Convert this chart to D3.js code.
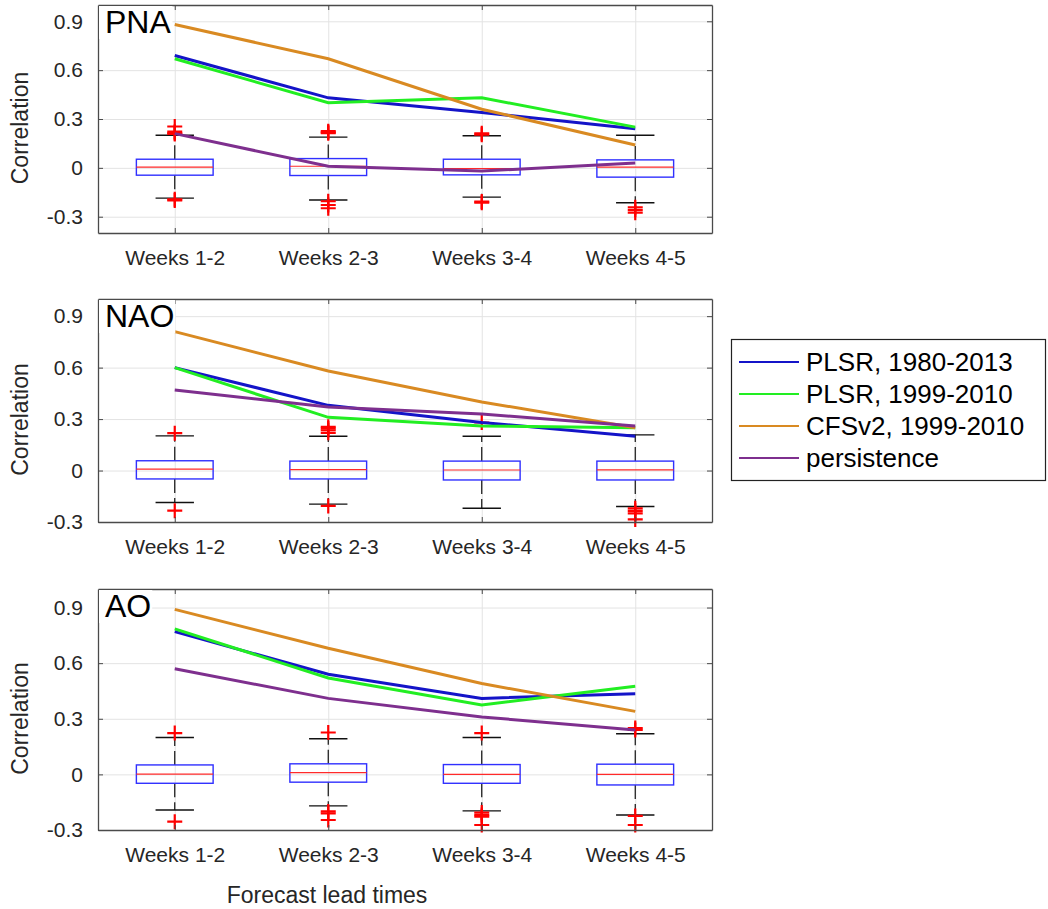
<!DOCTYPE html>
<html>
<head>
<meta charset="utf-8">
<script src="https://cdn.jsdelivr.net/npm/d3@7"></script>
<style>
  body { margin: 0; background: #fff; }
  svg { font-family: 'Liberation Sans', Arial, sans-serif; }
  .tick text { fill: #262626; font-size: 21px; }
  .frame .domain { stroke: #4a4a4a; stroke-width: 1.3; }
  .frame .tick line { stroke: #4a4a4a; }
  .grid .domain { display: none; }
  .grid .tick line { stroke: #e3e3e3; }
</style>
</head>
<body>
<svg id="chart" width="1048" height="909"></svg>
<script>
var categories = ['Weeks 1-2', 'Weeks 2-3', 'Weeks 3-4', 'Weeks 4-5'];
var panelNames = ['PNA', 'NAO', 'AO'];
var yTicks = [-0.3, 0, 0.3, 0.6, 0.9];

var seriesNames = ['PLSR, 1980-2013', 'PLSR, 1999-2010', 'CFSv2, 1999-2010', 'persistence'];
var seriesColors = ['#1414c8', '#22ee22', '#d98a22', '#7e2f8e'];

// correlation of each method, per panel
var pnaPlsr8013 = [0.69, 0.43, 0.34, 0.24];
var pnaPlsr9910 = [0.67, 0.40, 0.43, 0.25];
var pnaCfs = [0.88, 0.67, 0.36, 0.14];
var pnaPersist = [0.21, 0.01, -0.02, 0.03];

var naoPlsr8013 = [0.60, 0.38, 0.28, 0.20];
var naoPlsr9910 = [0.60, 0.31, 0.26, 0.25];
var naoCfs = [0.81, 0.58, 0.40, 0.25];
var naoPersist = [0.47, 0.37, 0.33, 0.26];

var aoPlsr8013 = [0.77, 0.54, 0.41, 0.435];
var aoPlsr9910 = [0.785, 0.52, 0.375, 0.475];
var aoCfs = [0.89, 0.68, 0.49, 0.34];
var aoPersist = [0.57, 0.41, 0.31, 0.24];

// box plots of the null distribution: [lower whisker, q1, median, q3, upper whisker]
var pnaBoxes = [[-0.186, -0.045, 0.004, 0.053, 0.2], [-0.197, -0.047, 0.01, 0.057, 0.189],
                [-0.18, -0.043, -0.004, 0.053, 0.197], [-0.214, -0.057, 0.004, 0.049, 0.2]];
var pnaOutliers = [[0.254, 0.222, 0.214, 0.208, -0.193, -0.2], [0.225, 0.218, 0.213, -0.205, -0.228, -0.248],
                   [0.212, 0.204, -0.207, -0.214], [-0.242, -0.258, -0.275]];

var naoBoxes = [[-0.186, -0.049, 0.008, 0.057, 0.202], [-0.196, -0.049, 0.005, 0.055, 0.2],
                [-0.22, -0.055, 0.003, 0.055, 0.2], [-0.21, -0.055, 0.004, 0.055, 0.208]];
var naoOutliers = [[0.218, -0.234], [0.22, 0.235, 0.245, 0.255, -0.206],
                   [0.28], [-0.22, -0.235, -0.25, -0.285]];

var aoBoxes = [[-0.192, -0.048, 0.001, 0.051, 0.199], [-0.17, -0.042, 0.01, 0.057, 0.192],
               [-0.197, -0.048, 0.0, 0.053, 0.199], [-0.219, -0.057, 0.0, 0.055, 0.219]];
var aoOutliers = [[0.223, -0.255], [0.226, -0.2, -0.21, -0.246],
                  [0.223, -0.206, -0.219, -0.228, -0.273], [0.24, 0.25, -0.224, -0.273]];

var panels = [
  { name: panelNames[0], top: 5, bottom: 233, domain: [-0.4, 1.0],
    series: [pnaPlsr8013, pnaPlsr9910, pnaCfs, pnaPersist], boxes: pnaBoxes, outliers: pnaOutliers },
  { name: panelNames[1], top: 299, bottom: 522, domain: [-0.3, 1.0],
    series: [naoPlsr8013, naoPlsr9910, naoCfs, naoPersist], boxes: naoBoxes, outliers: naoOutliers },
  { name: panelNames[2], top: 589, bottom: 830, domain: [-0.3, 1.0],
    series: [aoPlsr8013, aoPlsr9910, aoCfs, aoPersist], boxes: aoBoxes, outliers: aoOutliers }
];

var left = 98, right = 712;
var svg = d3.select('#chart');

var x = d3.scaleLinear().domain([0.5, 4.5]).range([left, right]);

var fmt = function(d) {
  return d === 0 ? '0' : d3.format('.1f')(d).replace('\u2212', '-');
};

panels.forEach(function(p) {
  var y = d3.scaleLinear().domain(p.domain).range([p.bottom, p.top]);
  var g = svg.append('g');
  var h = p.bottom - p.top;

  // grid
  g.append('g')
    .attr('class', 'grid')
    .attr('transform', 'translate(0,' + p.top + ')')
    .call(d3.axisBottom(x).tickValues([1, 2, 3, 4]).tickSize(h).tickFormat(''));
  g.append('g')
    .attr('class', 'grid')
    .attr('transform', 'translate(' + left + ',0)')
    .call(d3.axisRight(y).tickValues(yTicks).tickSize(right - left).tickFormat(''));

  // boxes
  var bw = x(1.25) - x(1);
  var cw = x(1.125) - x(1);
  p.boxes.forEach(function(b, i) {
    var cx = x(i + 1);
    g.append('line')
      .attr('x1', cx).attr('x2', cx)
      .attr('y1', y(b[3])).attr('y2', y(b[4]))
      .attr('stroke', '#111').attr('stroke-width', 1.2)
      .attr('stroke-dasharray', '14,5').attr('stroke-dashoffset', 19);
    g.append('line')
      .attr('x1', cx).attr('x2', cx)
      .attr('y1', y(b[1])).attr('y2', y(b[0]))
      .attr('stroke', '#111').attr('stroke-width', 1.2)
      .attr('stroke-dasharray', '14,5').attr('stroke-dashoffset', 19);
    [b[0], b[4]].forEach(function(v) {
      g.append('line')
        .attr('x1', cx - cw).attr('x2', cx + cw)
        .attr('y1', y(v)).attr('y2', y(v))
        .attr('stroke', '#111').attr('stroke-width', 1.4);
    });
    g.append('rect')
      .attr('x', cx - bw).attr('width', 2 * bw)
      .attr('y', y(b[3])).attr('height', y(b[1]) - y(b[3]))
      .attr('fill', 'none').attr('stroke', '#3030ff').attr('stroke-width', 1.4);
    g.append('line')
      .attr('x1', cx - bw).attr('x2', cx + bw)
      .attr('y1', y(b[2])).attr('y2', y(b[2]))
      .attr('stroke', '#ff2a2a').attr('stroke-width', 1.2);
    p.outliers[i].forEach(function(v) {
      g.append('path')
        .attr('d', 'M' + (cx - 7.5) + ',' + y(v) + 'h15M' + cx + ',' + (y(v) - 7.5) + 'v15')
        .attr('stroke', '#ff0000').attr('stroke-width', 2.2).attr('fill', 'none');
    });
  });

  // lines
  var line = d3.line()
    .x(function(d, i) { return x(i + 1); })
    .y(function(d) { return y(d); });
  p.series.forEach(function(s, k) {
    g.append('path')
      .datum(s)
      .attr('d', line)
      .attr('fill', 'none')
      .attr('stroke', seriesColors[k])
      .attr('stroke-width', 3);
  });

  // frame with inward ticks
  var fr = g.append('g').attr('class', 'frame');
  fr.append('g').attr('transform', 'translate(0,' + p.bottom + ')')
    .call(d3.axisBottom(x).tickValues([1, 2, 3, 4]).tickSize(-5).tickSizeOuter(0).tickPadding(17)
      .tickFormat(function(d) { return categories[d - 1]; }));
  fr.append('g').attr('transform', 'translate(0,' + p.top + ')')
    .call(d3.axisTop(x).tickValues([1, 2, 3, 4]).tickSize(-5).tickSizeOuter(0).tickFormat(''));
  fr.append('g').attr('transform', 'translate(' + left + ',0)')
    .call(d3.axisLeft(y).tickValues(yTicks).tickSize(-5).tickSizeOuter(0).tickPadding(15).tickFormat(fmt));
  fr.append('g').attr('transform', 'translate(' + right + ',0)')
    .call(d3.axisRight(y).tickValues(yTicks).tickSize(-5).tickSizeOuter(0).tickFormat(''));

  // panel label
  var lbl = g.append('text')
    .attr('x', left + 7).attr('y', p.top + 28)
    .attr('font-size', 32).attr('fill', '#000')
    .text(p.name);
  var bb = lbl.node().getBBox();
  g.insert('rect', function() { return lbl.node(); })
    .attr('x', left + 1).attr('y', p.top + 1)
    .attr('width', bb.x + bb.width + 1 - left - 1).attr('height', bb.y + bb.height - p.top - 2)
    .attr('fill', '#fff');

  // y label
  svg.append('text')
    .attr('transform', 'translate(20,' + ((p.top + p.bottom) / 2 + 9) + ') rotate(-90)')
    .attr('text-anchor', 'middle')
    .attr('dominant-baseline', 'central')
    .attr('font-size', 23).attr('fill', '#262626')
    .text('Correlation');
});

svg.append('text')
  .attr('x', 327).attr('y', 903)
  .attr('text-anchor', 'middle')
  .attr('font-size', 23).attr('fill', '#262626')
  .text('Forecast lead times');

// legend
var legend = svg.append('g');
legend.append('rect')
  .attr('x', 731.5).attr('y', 339.5).attr('width', 314).attr('height', 141)
  .attr('fill', '#fff').attr('stroke', '#222').attr('stroke-width', 1.2);
seriesNames.forEach(function(name, k) {
  var ly = 362 + k * 32;
  legend.append('line')
    .attr('x1', 739).attr('x2', 799).attr('y1', ly).attr('y2', ly)
    .attr('stroke', seriesColors[k]).attr('stroke-width', 2);
  legend.append('text')
    .attr('x', 806).attr('y', ly)
    .attr('dominant-baseline', 'central')
    .attr('font-size', 26).attr('fill', '#000')
    .text(name);
});
</script>
</body>
</html>
